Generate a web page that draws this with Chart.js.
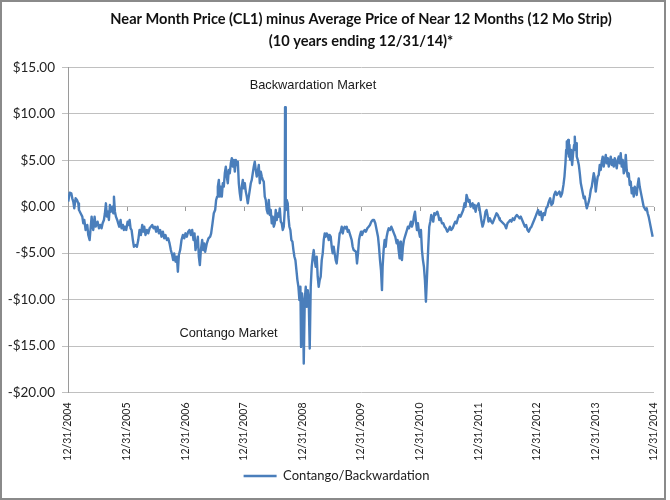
<!DOCTYPE html>
<html>
<head>
<meta charset="utf-8">
<script src="https://cdn.jsdelivr.net/npm/chart.js@4.4.1/dist/chart.umd.min.js"></script>
<style>
html,body{margin:0;padding:0;background:#fff;}
#wrap{position:relative;width:670px;height:500px;}
#frame{position:absolute;left:0;top:0;width:666px;height:500px;box-sizing:border-box;border:2px solid #8a8a8a;pointer-events:none;}
canvas{display:block;}
</style>
</head>
<body>
<div id="wrap"><canvas id="c" width="670" height="500"></canvas><div id="frame"></div></div>
<script>
const chartTitle = ['Near Month Price (CL1) minus Average Price of Near 12 Months (12 Mo Strip)', '(10 years ending 12/31/14)*'];
const seriesName = 'Contango/Backwardation';
const xTickLabels = ['12/31/2004','12/31/2005','12/31/2006','12/31/2007','12/31/2008','12/31/2009','12/31/2010','12/31/2011','12/31/2012','12/31/2013','12/31/2014'];
const noteTexts = ['Backwardation Market', 'Contango Market'];

// years elapsed since 12/31/2004
const yearsFromStart = [
0.005,0.028,0.056,0.073,0.090,0.107,0.130,0.153,0.176,0.187,
0.215,0.244,0.261,0.278,0.301,0.329,0.346,0.369,0.386,0.403,
0.414,0.431,0.454,0.471,0.488,0.505,0.528,0.551,0.573,0.591,
0.613,0.630,0.647,0.664,0.681,0.698,0.715,0.732,0.755,0.773,
0.784,0.801,0.818,0.840,0.857,0.874,0.897,0.914,0.937,0.954,
0.971,0.994,1.017,1.034,1.051,1.068,1.085,1.107,1.125,1.153,
1.176,1.199,1.221,1.244,1.267,1.284,1.301,1.323,1.346,1.369,
1.392,1.414,1.437,1.460,1.482,1.505,1.528,1.551,1.573,1.596,
1.619,1.642,1.664,1.687,1.710,1.733,1.755,1.778,1.795,1.812,
1.835,1.858,1.875,1.892,1.914,1.937,1.960,1.983,2.005,2.028,
2.051,2.073,2.096,2.119,2.142,2.159,2.176,2.199,2.216,2.233,
2.250,2.267,2.290,2.307,2.324,
2.341,2.369,2.397,2.426,2.443,2.466,2.488,2.511,2.528,2.545,
2.557,2.574,2.591,2.608,2.625,2.642,2.659,2.676,2.693,2.710,
2.727,2.744,2.761,2.778,2.795,2.812,2.829,2.847,2.864,2.881,
2.898,2.915,2.932,2.949,2.966,2.983,3.000,3.017,3.034,3.051,
3.068,3.085,3.102,3.119,3.136,3.153,3.170,3.187,3.204,3.221,
3.238,3.256,3.273,3.290,3.307,3.324,3.341,3.358,3.375,3.392,
3.409,3.426,3.443,3.460,3.477,3.494,3.511,3.528,3.545,3.562,
3.579,3.596,3.614,3.631,3.648,3.665,3.682,3.699,3.704,3.716,
3.733,3.750,3.761,3.778,3.795,3.812,3.830,3.847,3.864,3.881,
3.898,3.915,3.932,3.949,3.966,3.977,3.994,4.011,4.023,4.040,
4.057,4.074,4.091,4.108,4.125,4.142,4.159,4.176,4.193,4.210,
4.227,4.244,4.261,4.278,4.295,4.312,4.330,4.347,4.364,4.381,
4.398,4.415,4.432,4.449,4.466,4.483,4.500,4.517,4.534,4.551,
4.568,4.585,4.602,4.619,4.636,4.653,4.671,4.688,4.705,4.722,
4.739,4.756,4.773,4.790,4.807,4.824,4.841,4.858,4.875,
4.915,4.932,4.949,4.966,4.983,5.000,5.017,5.040,5.063,5.085,
5.108,5.131,5.153,5.176,5.199,5.222,5.244,5.267,5.290,5.307,
5.324,5.341,5.358,5.369,5.386,5.403,5.421,5.438,5.455,5.472,
5.494,5.517,5.540,5.562,5.585,5.608,5.625,5.642,5.659,5.671,
5.682,5.699,5.716,5.733,5.750,5.767,5.784,5.801,5.818,5.835,
5.852,5.869,5.886,5.903,5.921,5.938,5.955,5.972,5.989,6.006,
6.023,6.040,6.057,6.074,6.091,6.108,6.119,6.131,6.148,6.165,
6.182,6.199,6.216,6.233,6.250,6.267,6.284,6.302,6.319,6.336,
6.358,6.381,6.404,6.426,6.449,6.472,6.495,6.517,6.540,6.563,
6.585,6.608,6.631,6.654,6.676,6.699,6.722,6.745,6.767,6.784,
6.801,6.818,6.835,6.852,6.870,6.887,6.904,6.921,6.938,6.955,
6.972,6.989,7.006,7.023,7.040,7.057,7.074,7.091,7.108,7.125,
7.142,7.159,7.176,7.199,7.222,7.244,7.267,7.290,7.313,7.335,
7.358,7.369,
7.455,7.477,7.500,7.523,7.546,7.568,7.591,7.614,7.637,7.659,
7.682,7.705,7.727,7.750,7.773,7.796,7.818,7.841,7.864,7.887,
7.909,7.932,7.955,7.978,8.000,8.023,8.046,8.069,8.091,8.114,
8.137,8.160,8.182,8.205,8.228,8.250,8.273,8.296,8.319,8.341,
8.364,8.387,8.410,8.432,8.455,8.472,8.489,8.501,8.512,8.523,
8.535,8.546,8.557,8.569,8.586,8.603,8.620,8.637,8.648,8.660,
8.671,8.682,8.699,8.717,8.734,8.751,8.768,8.785,8.802,8.819,
8.836,8.853,8.870,8.887,8.904,8.921,8.938,8.955,8.972,8.989,
9.006,9.023,9.040,9.057,9.074,9.091,9.108,9.125,9.142,9.160,
9.177,9.194,9.211,9.228,9.245,9.262,9.279,9.296,9.313,9.330,
9.347,9.364,9.381,9.398,9.415,9.432,9.449,9.466,9.484,9.501,
9.518,9.535,9.552,9.569,9.586,9.603,9.620,9.637,9.654,9.671,
9.688,9.705,9.722,9.739,9.756,9.773,9.790,9.807,9.824,9.841,
9.858,9.875,9.892,9.909,9.926,9.943,9.960,9.977
];

// near month price minus 12-month strip average, US$
const spreadUSD = [
0.54,1.51,1.44,0.90,0.54,-0.18,0.90,0.72,0.36,-0.36,
-0.71,-1.07,-1.79,-1.43,-2.51,-1.97,-3.05,-3.59,-2.33,-1.07,
-1.79,-2.51,-1.07,-2.15,-1.97,-1.61,-2.33,-1.97,-2.33,-1.79,
-1.43,-0.71,0.36,-1.07,-0.54,-1.43,0.18,-0.54,0.00,-0.71,
1.08,-0.54,-1.07,-1.43,-1.79,-2.15,-1.43,-2.33,-1.97,-2.51,
-2.15,-2.51,-1.61,-1.97,-1.43,-2.33,-2.51,-3.59,-4.31,-4.13,
-4.31,-3.59,-2.51,-3.05,-1.97,-2.69,-2.15,-3.05,-2.51,-2.87,
-2.33,-2.15,-1.97,-2.33,-2.15,-2.69,-2.15,-2.87,-2.51,-3.23,
-2.69,-3.41,-3.05,-3.59,-3.41,-3.95,-4.67,-5.20,-5.74,-5.03,
-5.92,-5.38,-7.00,-5.20,-4.67,-3.59,-3.05,-3.41,-2.87,-3.23,
-2.69,-2.51,-3.05,-2.51,-3.59,-2.87,-4.67,-3.95,-3.23,-5.38,
-6.29,-4.67,-3.59,-4.67,-3.95,
-4.85,-3.95,-3.41,-3.23,-2.87,-1.79,-0.71,-0.36,0.72,1.08,
2.16,2.88,1.08,2.16,1.08,2.52,2.16,3.60,4.31,3.24,
2.52,3.96,3.60,4.67,5.21,4.31,5.03,3.77,5.03,4.49,
4.85,2.52,1.44,0.72,2.16,2.88,1.98,2.52,1.62,1.08,
0.36,1.08,1.80,2.52,2.88,3.60,4.31,4.85,3.96,3.24,
3.77,4.49,2.52,3.77,3.24,2.88,2.70,1.08,0.72,-0.36,
-0.72,0.72,-0.89,-0.36,-1.79,-1.08,-2.16,-1.79,-0.36,-1.44,
-0.72,-1.08,-0.18,-1.62,-1.79,-2.51,-2.16,-0.36,10.71,-0.36,
0.72,0.36,-1.08,-2.16,-2.51,-3.59,-3.77,-4.67,-5.39,-5.75,
-6.82,-7.90,-8.62,-10.06,-8.62,-15.09,-9.34,-10.78,-16.89,-10.06,
-8.62,-10.78,-8.98,-10.06,-15.27,-8.62,-6.47,-5.39,-4.67,-5.75,
-6.47,-5.39,-7.54,-8.62,-7.90,-7.54,-5.75,-5.03,-3.59,-2.88,
-3.23,-2.88,-3.05,-3.59,-3.05,-3.23,-4.31,-5.03,-4.31,-5.03,
-5.75,-6.11,-5.03,-3.95,-2.88,-2.70,-2.16,-2.88,-2.34,-2.16,
-2.34,-2.16,-2.70,-2.52,-2.88,-3.23,-3.59,-4.31,-4.67,
-4.85,-6.11,-5.03,-3.59,-3.05,-2.69,-3.05,-2.69,-2.51,-2.69,
-2.33,-2.15,-1.97,-1.61,-1.43,-1.43,-1.79,-2.51,-3.23,-4.31,
-5.74,-6.82,-8.98,-6.47,-4.67,-3.59,-4.31,-3.23,-2.69,-2.33,
-2.51,-2.15,-2.51,-2.87,-3.23,-3.95,-3.59,-4.67,-5.56,-3.77,
-5.38,-5.74,-4.31,-3.59,-3.23,-2.87,-2.51,-2.15,-2.33,-1.97,
-1.61,-2.15,-1.79,-1.07,-0.54,-1.61,-2.51,-1.79,-2.69,-3.23,
-2.51,-4.67,-5.74,-6.47,-7.90,-10.24,-8.62,-6.83,-4.31,-2.15,
-1.61,-0.90,-1.25,-1.61,-0.71,-0.90,-0.71,-0.54,-0.90,-1.43,
-1.25,-1.79,-1.79,-2.15,-2.33,-2.69,-2.51,-2.15,-2.51,-2.33,
-1.97,-1.61,-1.79,-1.25,-0.90,-1.07,-0.71,-0.36,0.36,0.00,
1.26,0.90,0.54,0.72,0.00,0.18,0.36,-0.18,0.18,-0.54,
0.00,0.18,0.36,-0.18,-0.90,-1.61,-2.15,-1.79,-1.25,-0.54,
-0.36,-0.90,-1.61,-1.25,-1.61,-1.79,-1.43,-1.07,-0.71,-0.90,
-1.25,-1.43,
-1.97,-2.33,-1.79,-1.61,-1.43,-1.61,-1.25,-1.43,-1.07,-0.89,
-1.07,-1.25,-1.07,-1.43,-1.79,-2.15,-1.97,-2.51,-2.69,-2.33,
-2.15,-1.79,-1.43,-1.07,-0.71,-0.36,-0.89,-0.54,-1.43,-0.71,
-0.89,-0.18,0.00,0.54,0.90,0.18,0.36,1.26,1.62,1.26,
1.44,1.62,1.08,1.44,2.34,3.24,4.67,6.11,7.01,5.75,
7.19,5.39,6.65,5.03,6.11,4.49,5.75,6.65,7.54,6.11,
6.83,5.39,5.03,4.49,3.59,2.52,1.98,1.44,0.90,1.08,
0.36,-0.18,0.18,0.54,1.08,1.80,2.16,2.88,3.60,3.05,
1.62,2.52,3.24,3.42,4.49,3.95,4.85,5.39,4.31,5.03,
5.57,4.67,5.21,4.31,4.85,5.39,4.49,5.03,4.31,5.21,
4.67,4.13,5.03,5.39,4.67,5.75,4.31,5.03,3.59,3.95,
5.57,3.95,3.24,3.59,2.34,2.70,1.44,1.98,1.08,2.16,
1.80,1.26,2.34,3.05,2.16,1.62,1.08,0.54,0.00,-0.18,
-0.36,-0.18,-0.71,-1.07,-1.61,-2.15,-2.69,-3.23
];

const n = Math.min(yearsFromStart.length, spreadUSD.length);
const points = [];
for (let i = 0; i < n; i++) points.push({x: yearsFromStart[i], y: spreadUSD[i]});

Chart.defaults.font.family = 'Lato, "Open Sans", sans-serif';

const zeroLineTicks = {
  id: 'zeroLineTicks',
  beforeDatasetsDraw(chart) {
    const {ctx, scales: {x, y}} = chart;
    const y0 = Math.round(y.getPixelForValue(0));
    ctx.save();
    ctx.strokeStyle = '#9a9a9a';
    ctx.lineWidth = 1;
    x.ticks.forEach(t => {
      const px = Math.round(x.getPixelForValue(t.value)) + 0.5;
      ctx.beginPath();
      ctx.moveTo(px, y0);
      ctx.lineTo(px, y0 + 4);
      ctx.stroke();
    });
    ctx.restore();
  }
};

const textNotes = {
  id: 'textNotes',
  afterDatasetsDraw(chart, args, opts) {
    const {ctx, scales: {x, y}} = chart;
    ctx.save();
    ctx.font = opts.font;
    ctx.fillStyle = opts.color;
    ctx.textAlign = 'center';
    ctx.textBaseline = 'middle';
    (opts.items || []).forEach(it => {
      ctx.fillText(it.text, x.getPixelForValue(it.x), y.getPixelForValue(it.y));
    });
    ctx.restore();
  }
};

// nudge the legend so it is centred on the whole frame as in the original
const legendNudge = {
  id: 'legendNudge',
  afterLayout(chart, args, opts) {
    if (chart.legend) {
      chart.legend.left += opts.dx;
      chart.legend.right += opts.dx;
    }
  }
};

new Chart(document.getElementById('c'), {
  type: 'line',
  data: {
    datasets: [{
      label: seriesName,
      data: points,
      borderColor: '#4A7EBB',
      backgroundColor: '#4A7EBB',
      borderWidth: 2.4,
      pointRadius: 0,
      tension: 0,
      borderJoinStyle: 'round',
      fill: false
    }]
  },
  options: {
    responsive: false,
    animation: false,
    devicePixelRatio: 1,
    layout: {padding: {left: 6, right: 16, top: 0, bottom: 7.5}},
    scales: {
      x: {
        type: 'linear',
        min: 0,
        max: 10,
        grid: {display: false},
        border: {display: false},
        ticks: {
          stepSize: 1,
          autoSkip: false,
          minRotation: 90,
          maxRotation: 90,
          padding: 2,
          color: '#222',
          font: {size: 10.5},
          callback: (v) => xTickLabels[Math.round(v)]
        },
        afterFit: (s) => { s.height = 75; }
      },
      y: {
        min: -20,
        max: 15,
        ticks: {
          stepSize: 5,
          padding: 7,
          color: '#222',
          font: {size: 13.5},
          callback: (v) => (v < 0 ? '-$' : '$') + Math.abs(v).toFixed(2)
        },
        grid: {color: '#c0c0c0', tickLength: 6, drawTicks: true},
        border: {display: true, color: '#9a9a9a'},
        afterFit: (s) => { s.width = 62; }
      }
    },
    plugins: {
      title: {
        display: true,
        fullSize: false,
        text: chartTitle,
        color: '#111',
        font: {size: 14.6, weight: 'bold', lineHeight: 1.507},
        padding: {top: 8.5, bottom: 14.8}
      },
      legend: {
        position: 'bottom',
        labels: {
          usePointStyle: true,
          pointStyle: 'line',
          pointStyleWidth: 33,
          boxHeight: 12,
          padding: 2,
          color: '#222',
          font: {size: 13}
        }
      },
      legendNudge: {dx: 6.5},
      tooltip: {enabled: false},
      textNotes: {
        font: '12.8px "Liberation Sans", Arial, sans-serif',
        color: '#1a1a1a',
        items: [
          {text: noteTexts[0], x: 4.18, y: 13.0},
          {text: noteTexts[1], x: 2.74, y: -13.6}
        ]
      }
    }
  },
  plugins: [zeroLineTicks, textNotes, legendNudge]
});
</script>
</body>
</html>
